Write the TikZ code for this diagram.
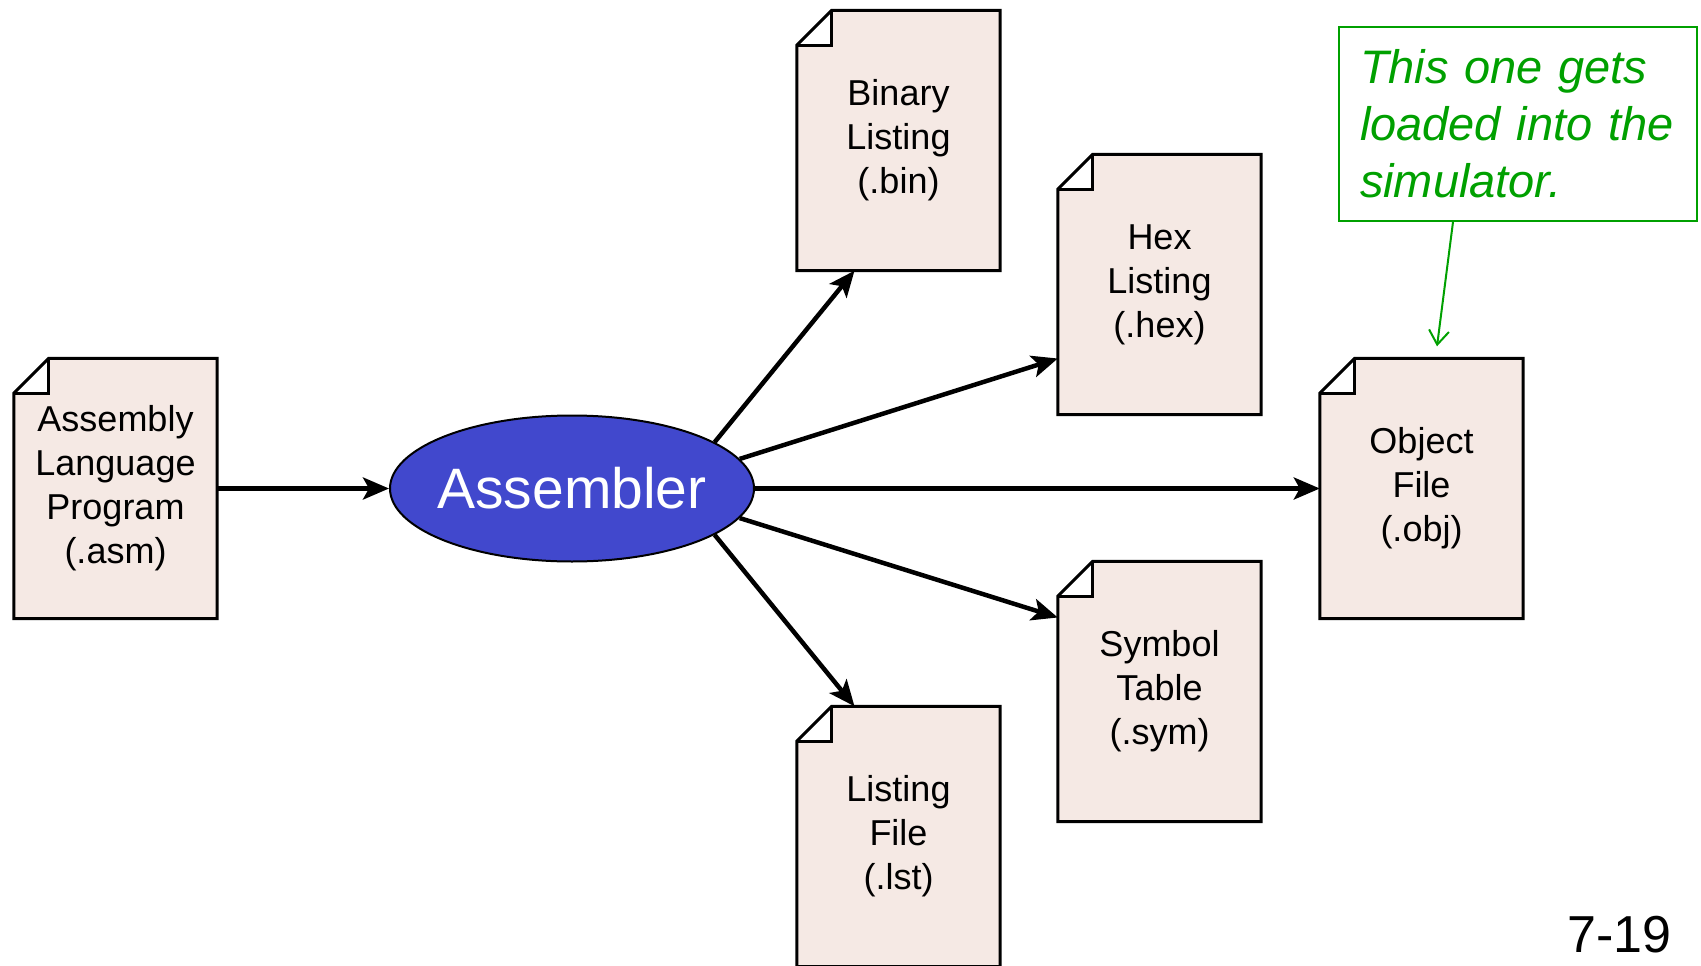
\documentclass[tikz,border=0pt]{standalone}
\usepackage{fontspec}
\setmainfont{Liberation Sans}
\usepackage{tikz}
\usetikzlibrary{arrows.meta,positioning,shapes.geometric}
\definecolor{docfill}{RGB}{245,233,228}
\definecolor{asmblue}{RGB}{65,72,205}
\definecolor{notegreen}{RGB}{0,160,0}

\begin{document}
\begin{tikzpicture}[x=1pt,y=-1pt,on grid,
            doc/.style={rectangle,fill=docfill,minimum width=203pt,minimum height=260pt,inner sep=0pt,align=center,font=\fontsize{36}{44}\selectfont},
            prog/.style={ellipse,draw,line width=2pt,fill=asmblue,text=white,minimum width=364pt,minimum height=146pt,inner ysep=0pt,inner xsep=-60pt,font=\fontsize{57}{60}\selectfont},
            note/.style={rectangle,draw=notegreen,line width=2pt,text=notegreen,minimum width=358pt,minimum height=194pt,text width=316pt,align=left,inner sep=0pt,font=\fontsize{47}{57}\selectfont\itshape},
            arr/.style={-{Stealth[length=26pt,width=22pt,inset=6pt]},line width=4.5pt},
            notearr/.style={-{Straight Barb[length=14pt,width=20pt]},draw=notegreen,line width=2pt},
            fold/.style={line width=3pt,line join=miter}]
            \useasboundingbox (0,0) rectangle (1701,966);

            \node[doc]    (asm) at (115.5,488.5) {Assembly\\Language\\Program\\(.asm)};
            \node[prog]   (asmb) [right=456.5pt of asm] {Assembler};
            \node[doc]    (bin) [above right=348pt and 326.5pt of asmb] {Binary\\Listing\\(.bin)};
            \node[doc]    (hex) [above right=204pt and 587.5pt of asmb] {Hex\\Listing\\(.hex)};
            \node[doc]    (obj) [right=849.5pt of asmb] {Object\\File\\(.obj)};
            \node[doc]    (sym) [below right=203pt and 587.5pt of asmb] {Symbol\\Table\\(.sym)};
            \node[doc]    (lst) [below right=348pt and 326.5pt of asmb] {Listing\\File\\(.lst)};

            \foreach \d in {asm,bin,hex,obj,sym,lst}{
                \fill[white] (\d.north west) rectangle ([xshift=35pt,yshift=-35pt]\d.north west);
                \draw[fold] ([yshift=-35pt]\d.north west) -- ([xshift=35pt]\d.north west) -- (\d.north east)
                    -- (\d.south east) -- (\d.south west) -- cycle;
                \draw[fold] ([yshift=-35pt]\d.north west) -- ([xshift=35pt,yshift=-35pt]\d.north west) -- ([xshift=35pt]\d.north west);
            }

            \path[arr]
            (asm)      edge (asmb)
            (asmb)     edge (obj)
            (asmb.18)  edge ([xshift=-44pt]bin.south)
            (asmb.10)  edge ([yshift=-74pt]hex.west)
            (asmb.-10) edge ([yshift=74pt]sym.west)
            (asmb.-18) edge ([xshift=-44pt]lst.north)
            ;

            \node[note]   (note) at (1518,124) {This one gets loaded into the simulator.};
            \coordinate   (objtip) at ([xshift=15.5pt,yshift=12pt]obj.north);
            \draw[notearr] ([xshift=-65pt]note.south) -- (objtip);

            \node (pg) [anchor=base east,inner sep=0pt,font=\fontsize{52}{52}\selectfont] at (1672,952) {7-19};
    \end{tikzpicture}
\end{document}
